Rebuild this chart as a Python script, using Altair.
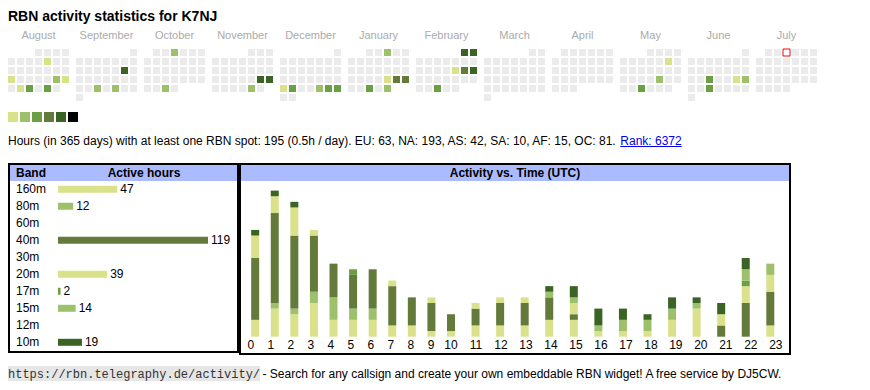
import altair as alt
import pandas as pd

# ---------------- data ----------------
callsign = "K7NJ"
months = ["August", "September", "October", "November", "December", "January",
          "February", "March", "April", "May", "June", "July"]
month_starts = ["2024-08-01", "2024-09-01", "2024-10-01", "2024-11-01", "2024-12-01", "2025-01-01",
                "2025-02-01", "2025-03-01", "2025-04-01", "2025-05-01", "2025-06-01", "2025-07-01"]
today = "2025-07-03"

active_dates = ["2024-08-09", "2024-08-19", "2024-08-24", "2024-08-25", "2024-08-27", "2024-08-28", "2024-08-30",
                "2024-09-14", "2024-09-25", "2024-09-27",
                "2024-10-03", "2024-10-30",
                "2024-11-23", "2024-11-24", "2024-11-29",
                "2024-12-23", "2024-12-24", "2024-12-27", "2024-12-28", "2024-12-29",
                "2025-01-03", "2025-01-24", "2025-01-25", "2025-01-26", "2025-01-29", "2025-01-31",
                "2025-02-01", "2025-02-02", "2025-02-14", "2025-02-15", "2025-02-16", "2025-02-26",
                "2025-05-10", "2025-05-23", "2025-05-28",
                "2025-06-18", "2025-06-21", "2025-06-22", "2025-06-25"]
active_levels = [1, 1, 2, 1, 1, 3, 3,
                 5, 2, 2,
                 2, 2,
                 5, 5, 2,
                 1, 3, 2, 3, 3,
                 2, 1, 4, 4, 3, 2,
                 5, 5, 1, 4, 5, 3,
                 1, 2, 3,
                 3, 1, 2, 3]
legend_levels = [1, 2, 3, 4, 5, 6]
level_colors = ["#ebebeb", "#dae18b", "#9dc16b", "#6aa043", "#647a3a", "#3a6424", "#000000"]

hours_total = 195
per_day = 0.5
continents = ["EU", "NA", "AS", "SA", "AF", "OC"]
continent_hours = [63, 193, 42, 10, 15, 81]
rank = 6372

bands = ["160m", "80m", "60m", "40m", "30m", "20m", "17m", "15m", "12m", "10m"]
band_hours = [47, 12, 0, 119, 0, 39, 2, 14, 0, 19]
band_colors = ["#dae18b", "#9dc16b", "#6aa043", "#647a3a", "#3a6424",
               "#dae18b", "#6aa043", "#9dc16b", "#647a3a", "#3a6424"]

utc_hours = list(range(24))
hourly = {
    "160m": [3, 5, 4, 6, 3, 3, 3, 2, 2, 1, 1, 2, 2, 2, 3, 3, 0, 0, 0, 0, 0, 0, 0, 2],
    "80m":  [0, 1, 1, 2, 4, 2, 2, 0, 0, 0, 0, 0, 0, 0, 0, 0, 0, 0, 0, 0, 0, 0, 0, 0],
    "40m":  [11, 16, 13, 10, 6, 6, 7, 7, 5, 5, 3, 3, 4, 4, 4, 1, 0, 0, 0, 0, 0, 2, 6, 6],
    "20m":  [4, 3, 5, 1, 0, 0, 0, 1, 0, 1, 0, 1, 1, 1, 0, 2, 1, 1, 1, 3, 5, 2, 3, 3],
    "17m":  [0, 0, 0, 0, 0, 1, 0, 0, 0, 0, 0, 0, 0, 0, 0, 0, 0, 0, 0, 0, 0, 0, 1, 0],
    "15m":  [0, 0, 0, 0, 0, 0, 0, 0, 0, 0, 0, 0, 0, 0, 1, 1, 1, 2, 2, 2, 1, 0, 2, 2],
    "10m":  [1, 1, 1, 0, 0, 0, 0, 0, 0, 0, 0, 0, 0, 0, 1, 2, 3, 2, 1, 2, 1, 2, 2, 0],
}

FONT = "Liberation Sans"
MONO = "Liberation Mono"
HEADER_BG = "#aabbff"

# ---------------- tables ----------------
level_map = dict(zip(active_dates, active_levels))
cells = []
for m, start in enumerate(month_starts):
    d0 = pd.Timestamp(start)
    off = d0.weekday()
    for k in range(d0.days_in_month):
        d = d0 + pd.Timedelta(days=k)
        key = d.strftime("%Y-%m-%d")
        gx = m * 68 / 9 + d.weekday()
        row = (k + off) // 7
        cells.append(dict(date=key, gx=gx, gx2=gx + 7 / 9, row=row, row2=row + 7 / 9,
                          level=level_map.get(key, 0), today=(key == today)))
cal = pd.DataFrame(cells)
month_df = pd.DataFrame({"month": months,
                         "cx": [m * 68 / 9 + (6 + 7 / 9) / 2 for m in range(len(months))]})

CX = alt.Scale(domain=[0, 90], range=[0, 810], nice=False, zero=False)
CY = alt.Scale(domain=[0, 5], range=[41, 86], nice=False, zero=False)
LVL = alt.Scale(domain=list(range(7)), range=level_colors)

one = pd.DataFrame({"a": [0]})


def txt(s, x, y, size=12, weight="normal", color="black", align="left", font=FONT):
    return alt.Chart(pd.DataFrame({"t": [s]})).mark_text(
        align=align, baseline="alphabetic", fontSize=size, fontWeight=weight,
        color=color, font=font).encode(x=alt.value(x), y=alt.value(y), text="t:N")


def box(x, x2, y, y2, **kw):
    return alt.Chart(one).mark_rect(**kw).encode(
        x=alt.value(x), x2=alt.value(x2), y=alt.value(y), y2=alt.value(y2))


layers = []

# title
layers.append(txt(f"RBN activity statistics for {callsign}", 0, 12.5, size=14, weight="bold"))

# month labels
layers.append(alt.Chart(month_df).mark_text(fontSize=11, font=FONT, color="#aaaaaa",
                                            baseline="alphabetic").encode(
    x=alt.X("cx:Q", scale=CX, axis=None), y=alt.value(30.5), text="month:N"))

# calendar cells
layers.append(alt.Chart(cal).mark_rect().encode(
    x=alt.X("gx:Q", scale=CX, axis=None), x2="gx2:Q",
    y=alt.Y("row:Q", scale=CY, axis=None), y2="row2:Q",
    color=alt.Color("level:O", scale=LVL, legend=None)))

# today marker
layers.append(alt.Chart(cal[cal.today]).mark_rect(fill="white", stroke="red", strokeWidth=1).encode(
    x=alt.X("gx:Q", scale=CX, axis=None), x2="gx2:Q",
    y=alt.Y("row:Q", scale=CY, axis=None), y2="row2:Q"))

# legend squares
leg = pd.DataFrame({"level": legend_levels})
layers.append(alt.Chart(leg).mark_rect().encode(
    x=alt.X("level:O", scale=alt.Scale(range=[0, 70], paddingInner=1 / 6, paddingOuter=0), axis=None),
    y=alt.value(104), y2=alt.value(114),
    color=alt.Color("level:O", scale=LVL, legend=None)))

# stats line
cont = ", ".join(f"{c}: {h}" for c, h in zip(continents, continent_hours))
stats = (f"Hours (in 365 days) with at least one RBN spot: {hours_total} "
         f"({per_day}h / day). {cont}. ")
layers.append(txt(stats, 0, 136.7))
LINK_X = 612.3
layers.append(txt(f"Rank: {rank}", LINK_X, 136.7, color="#0000ee"))
layers.append(alt.Chart(one).mark_rule(color="#0000ee", strokeWidth=1).encode(
    x=alt.value(LINK_X), x2=alt.value(LINK_X + 61.4), y=alt.value(138.5)))

# ---------------- band table ----------------
layers.append(box(2, 229, 157, 173, color=HEADER_BG))
layers.append(box(1, 230, 156, 344, fillOpacity=0, stroke="black", strokeWidth=2))
layers.append(txt("Band", 8, 168.7, weight="bold"))
layers.append(txt("Active hours", 136, 168.7, weight="bold", align="center"))

band_df = pd.DataFrame({"band": bands, "hours": band_hours})
BX = alt.Scale(domain=[0, 119], range=[50, 200], nice=False, zero=False)
BY = alt.Scale(domain=bands, range=[172.8, 342.8], paddingInner=0, paddingOuter=0)
BC = alt.Scale(domain=bands, range=band_colors)
nz = band_df[band_df.hours > 0]
layers.append(alt.Chart(nz).mark_bar(height=7).encode(
    x=alt.X("hours:Q", scale=BX, axis=None),
    y=alt.Y("band:N", scale=BY, sort=bands, axis=None),
    color=alt.Color("band:N", scale=BC, legend=None)))
layers.append(alt.Chart(band_df).mark_text(align="left", baseline="alphabetic", dy=4,
                                           fontSize=12, font=FONT).encode(
    x=alt.value(8), y=alt.Y("band:N", scale=BY, sort=bands, axis=None), text="band:N"))
layers.append(alt.Chart(nz).mark_text(align="left", baseline="alphabetic", dy=4, dx=3,
                                      fontSize=12, font=FONT).encode(
    x=alt.X("hours:Q", scale=BX, axis=None),
    y=alt.Y("band:N", scale=BY, sort=bands, axis=None), text="hours:Q"))

# ---------------- activity vs time ----------------
layers.append(box(233, 781, 157, 173, color=HEADER_BG))
layers.append(box(232, 782, 156, 346, fillOpacity=0, stroke="black", strokeWidth=2))
layers.append(txt("Activity vs. Time (UTC)", 507, 168.7, weight="bold", align="center"))

recs = []
for bi, b in enumerate(bands):
    if b in hourly:
        for h, n in zip(utc_hours, hourly[b]):
            if n > 0:
                recs.append(dict(hour=h, band=b, bidx=bi, n=n))
act = pd.DataFrame(recs)
HX = alt.Scale(domain=[0, 10, 23], range=[242.8, 443, 767.8], nice=False, zero=False)
HY = alt.Scale(domain=[0, 26], range=[328.7, 182.6], nice=False, zero=False)
layers.append(alt.Chart(act).mark_bar(width=8).encode(
    x=alt.X("hour:Q", scale=HX, axis=None),
    y=alt.Y("n:Q", stack="zero", scale=HY, axis=None),
    color=alt.Color("band:N", scale=BC, legend=None),
    order=alt.Order("bidx:Q", sort="ascending")))
layers.append(alt.Chart(pd.DataFrame({"hour": utc_hours})).mark_text(
    fontSize=12, font=FONT, baseline="alphabetic").encode(
    x=alt.X("hour:Q", scale=HX, axis=None), y=alt.value(341.3), text="hour:Q"))

# ---------------- footer ----------------
layers.append(box(0, 252, 358, 373, color="#e6e6e6"))
layers.append(txt("https://rbn.telegraphy.de/activity/", 0, 369.5, font=MONO, color="#333333"))
layers.append(txt("- Search for any callsign and create your own embeddable RBN widget! "
                  "A free service by DJ5CW.", 254.5, 369.5))

chart = alt.layer(*layers).resolve_scale(
    x="independent", y="independent", color="independent"
).properties(width=854, height=374, autosize="none", padding=0).configure_view(stroke=None)

chart.save("out.html", embed_options={"renderer": "svg", "actions": False})
